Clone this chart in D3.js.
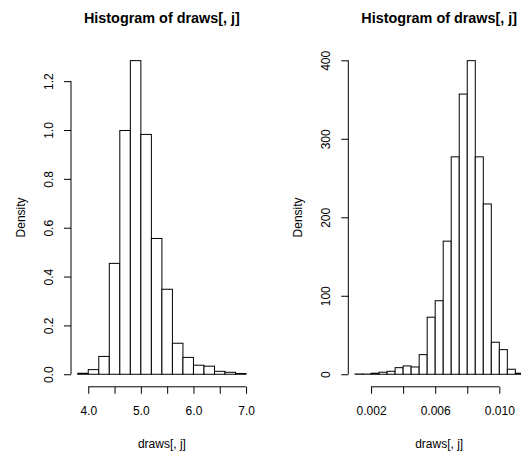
<!DOCTYPE html>
<html>
<head>
<meta charset="utf-8">
<script src="https://cdn.jsdelivr.net/npm/d3@7"></script>
<style>
  html, body { margin: 0; padding: 0; background: #fff; }
  svg { display: block; }
  text { font-family: "Liberation Sans", Arial, Helvetica, sans-serif; fill: #000; }
</style>
</head>
<body>
<svg id="chart" width="521" height="453"></svg>
<script>
// Histogram bins: left edge of first break, bin width, densities per bin
const leftStart = 3.8;
const leftWidth = 0.2;
const leftDensity = [0.004, 0.019, 0.073, 0.454, 0.998, 1.284, 0.982, 0.556,
                     0.348, 0.127, 0.069, 0.037, 0.033, 0.012, 0.008, 0.003];
const leftXTicks = [4.0, 4.5, 5.0, 5.5, 6.0, 6.5, 7.0];
const leftXLabels = ["4.0", "", "5.0", "", "6.0", "", "7.0"];
const leftYTicks = [0, 0.2, 0.4, 0.6, 0.8, 1.0, 1.2];
const leftYLabels = ["0.0", "0.2", "0.4", "0.6", "0.8", "1.0", "1.2"];

const rightStart = 0.001;
const rightWidth = 0.0005;
const rightDensity = [0.3, 0.2, 1.3, 2.6, 3.8, 8.4, 10.6, 9.3, 25, 72.7, 93.7,
                      169.6, 277, 357, 399.6, 277, 217, 40.8, 31.4, 6.4, 1.3];
const rightXTicks = [0.002, 0.004, 0.006, 0.008, 0.010];
const rightXLabels = ["0.002", "", "0.006", "", "0.010"];
const rightYTicks = [0, 100, 200, 300, 400];
const rightYLabels = ["0", "100", "200", "300", "400"];

const titleText = "Histogram of draws[, j]";
const xTitle = "draws[, j]";
const yTitle = "Density";

const svg = d3.select("#chart");
const plotTop = 48.1, plotBottom = 386.8, plotWidth = 181.8;

function histogram(x0, start, width, dens, xTicks, xLabels, yTicks, yLabels) {
  const bins = dens.map((d, i) => ({ lo: start + i * width, hi: start + (i + 1) * width, d }));
  const xMin = bins[0].lo, xMax = bins[bins.length - 1].hi;
  const xPad = (xMax - xMin) * 0.04;
  const yMax = d3.max(dens);
  const x = d3.scaleLinear().domain([xMin - xPad, xMax + xPad]).range([x0, x0 + plotWidth]);
  const y = d3.scaleLinear().domain([-0.04 * yMax, 1.04 * yMax]).range([plotBottom, plotTop]);
  const g = svg.append("g");

  g.selectAll("rect.bar").data(bins).join("rect")
    .attr("class", "bar")
    .attr("x", b => x(b.lo))
    .attr("y", b => y(b.d))
    .attr("width", b => x(b.hi) - x(b.lo))
    .attr("height", b => y(0) - y(b.d))
    .attr("fill", "#fff")
    .attr("stroke", "#000")
    .attr("stroke-width", 1);

  // bottom axis: line spans first to last tick
  const ax = g.append("g").attr("transform", `translate(0,${plotBottom})`)
    .call(d3.axisBottom(x).tickValues(xTicks).tickSize(7).tickSizeOuter(0)
      .tickFormat((d, i) => xLabels[i]));
  ax.select(".domain").attr("d", `M${x(xTicks[0])},0H${x(xTicks[xTicks.length - 1])}`);
  ax.selectAll("line, path").attr("stroke", "#000");
  ax.selectAll("text").attr("font-size", 12).attr("y", 28.3).attr("dy", null);

  // left axis with rotated labels
  const ay = g.append("g").attr("transform", `translate(${x0},0)`)
    .call(d3.axisLeft(y).tickValues(yTicks).tickSize(7).tickSizeOuter(0)
      .tickFormat((d, i) => yLabels[i]));
  ay.select(".domain").attr("d", `M0,${y(yTicks[0])}V${y(yTicks[yTicks.length - 1])}`);
  ay.selectAll("line, path").attr("stroke", "#000");
  ay.selectAll("text").attr("font-size", 12)
    .attr("transform", "rotate(-90)")
    .attr("x", 0).attr("y", -18).attr("dy", null)
    .attr("text-anchor", "middle");

  const cx = x0 + plotWidth / 2;
  g.append("text").attr("x", cx).attr("y", 22.7)
    .attr("text-anchor", "middle").attr("font-size", 14.4).attr("font-weight", "bold")
    .text(titleText);
  g.append("text").attr("x", cx).attr("y", 447.5)
    .attr("text-anchor", "middle").attr("font-size", 12).text(xTitle);
  g.append("text")
    .attr("transform", `translate(${x0 - 46},${(plotTop + plotBottom) / 2}) rotate(-90)`)
    .attr("text-anchor", "middle").attr("font-size", 12).text(yTitle);
}

histogram(71, leftStart, leftWidth, leftDensity, leftXTicks, leftXLabels, leftYTicks, leftYLabels);
histogram(348.3, rightStart, rightWidth, rightDensity, rightXTicks, rightXLabels, rightYTicks, rightYLabels);
</script>
</body>
</html>
